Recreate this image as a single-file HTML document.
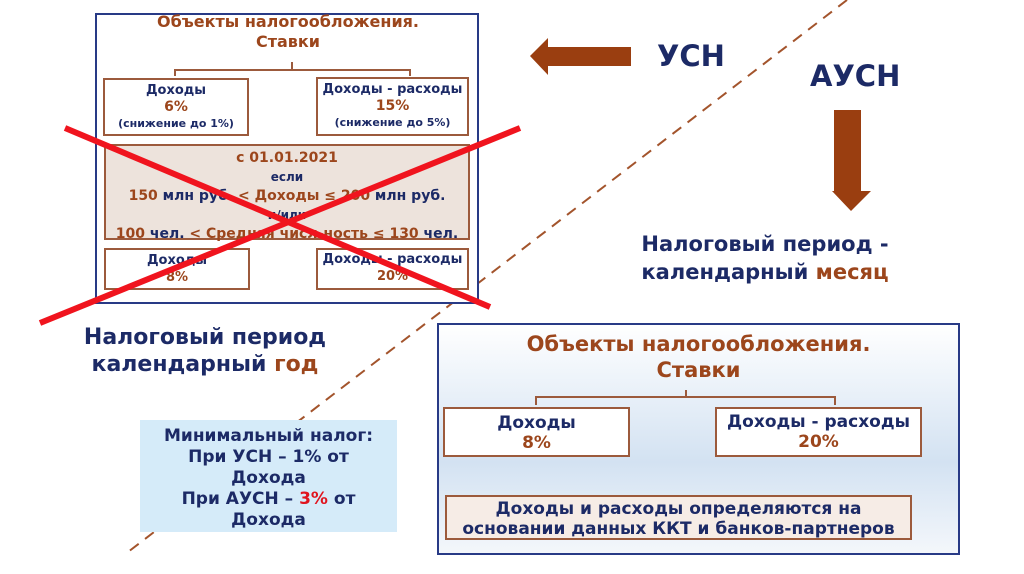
<!DOCTYPE html>
<html><head><meta charset="utf-8"><style>
body{margin:0;width:1024px;height:574px;background:#fff;position:relative;overflow:hidden;font-family:"DejaVu Sans","Liberation Sans",sans-serif;font-weight:bold;color:#1c2a66}
.a{position:absolute}
.c{text-align:center}
.br{color:#9c461c}
.box{position:absolute;border:2px solid #9c5a3c;background:#fff;box-sizing:border-box;text-align:center}
</style></head><body>
<svg class="a" style="left:0;top:0" width="1024" height="574">
<defs><linearGradient id="g" x1="0" y1="0" x2="0" y2="1"><stop offset="0" stop-color="#fff"/><stop offset="0.6" stop-color="#d3e2f2"/><stop offset="1" stop-color="#f4f7fb"/></linearGradient></defs>
<line x1="847" y1="0" x2="128" y2="552" stroke="#a3542c" stroke-width="2" stroke-dasharray="11,8"/>
<rect x="96" y="14" width="382" height="289" fill="#fff" stroke="#283a86" stroke-width="2"/>
<rect x="438" y="324" width="521" height="230" fill="url(#g)" stroke="#283a86" stroke-width="2"/>
<path d="M175 76 V70 H410 V76 M292 70 V62" fill="none" stroke="#9c5a3c" stroke-width="2"/>
<path d="M536 405 V397 H835 V405 M686 397 V390" fill="none" stroke="#9c5a3c" stroke-width="2"/>
<polygon points="530,56 548,38 548,47 631,47 631,66 548,66 548,75" fill="#9a3e10"/>
<polygon points="834,110 861,110 861,191 871,191 851,211 832,191 834,191" fill="#9a3e10"/>
</svg>
<div class="a c br" style="left:96px;top:12px;width:384px;font-size:16px;line-height:20px">Объекты налогообложения.<br>Ставки</div>
<div class="box" style="left:103px;top:78px;width:146px;height:58px;font-size:13px;line-height:16px;padding-top:3px">Доходы<br><span class="br" style="font-size:14px">6%</span><br><span style="font-size:11px">(снижение до 1%)</span></div>
<div class="box" style="left:316px;top:77px;width:153px;height:59px;font-size:13px;line-height:16px;padding-top:3px">Доходы - расходы<br><span class="br" style="font-size:14px">15%</span><br><span style="font-size:11px">(снижение до 5%)</span></div>
<div class="box" style="left:104px;top:144px;width:366px;height:96px;background:#ede3dc;font-size:14px;line-height:19px;padding-top:3px"><span class="br">с 01.01.2021</span><br><span style="font-size:12px">если</span><br><span class="br">150</span> млн руб. <span class="br">&lt; Доходы ≤ 200</span> млн руб.<br><span style="font-size:12px">и/или</span><br><span class="br">100</span> чел. <span class="br">&lt; Средняя числ-ность ≤ 130</span> чел.</div>
<div class="box" style="left:104px;top:248px;width:146px;height:42px;font-size:13px;line-height:17px;padding-top:2px">Доходы<br><span class="br">8%</span></div>
<div class="box" style="left:316px;top:248px;width:153px;height:42px;font-size:13px;line-height:17px;padding-top:1px">Доходы - расходы<br><span class="br">20%</span></div>
<svg class="a" style="left:0;top:0" width="1024" height="574"><line x1="65" y1="128" x2="490" y2="307" stroke="#f0141e" stroke-width="6"/><line x1="520" y1="128" x2="40" y2="323" stroke="#f0141e" stroke-width="6"/></svg>
<div class="a c" style="left:50px;top:324px;width:310px;font-size:22px;line-height:27px">Налоговый период<br>календарный <span class="br">год</span></div>
<div class="a" style="left:657px;top:39px;font-size:29px">УСН</div>
<div class="a" style="left:810px;top:59px;font-size:29px">АУСН</div>
<div class="a c" style="left:590px;top:230px;width:350px;font-size:21px;line-height:28px">Налоговый период -<br>календарный <span class="br">месяц</span></div>
<div class="a c" style="left:140px;top:420px;width:257px;height:112px;background:#d5ebf9;font-size:17px;line-height:21px;padding-top:6px;box-sizing:border-box">Минимальный налог:<br>При УСН – 1% от<br>Дохода<br>При АУСН – <span style="color:#e0141e">3%</span> от<br>Дохода</div>
<div class="a c br" style="left:438px;top:331px;width:521px;font-size:21px;line-height:26px">Объекты налогообложения.<br>Ставки</div>
<div class="box" style="left:443px;top:407px;width:187px;height:50px;font-size:17px;line-height:20px;padding-top:4px">Доходы<br><span class="br">8%</span></div>
<div class="box" style="left:715px;top:407px;width:207px;height:50px;font-size:17px;line-height:20px;padding-top:3px">Доходы - расходы<br><span class="br">20%</span></div>
<div class="box" style="left:445px;top:495px;width:467px;height:45px;background:#f6ece6;font-size:17px;line-height:20px;padding-top:2px">Доходы и расходы определяются на<br>основании данных ККТ и банков-партнеров</div>
</body></html>
